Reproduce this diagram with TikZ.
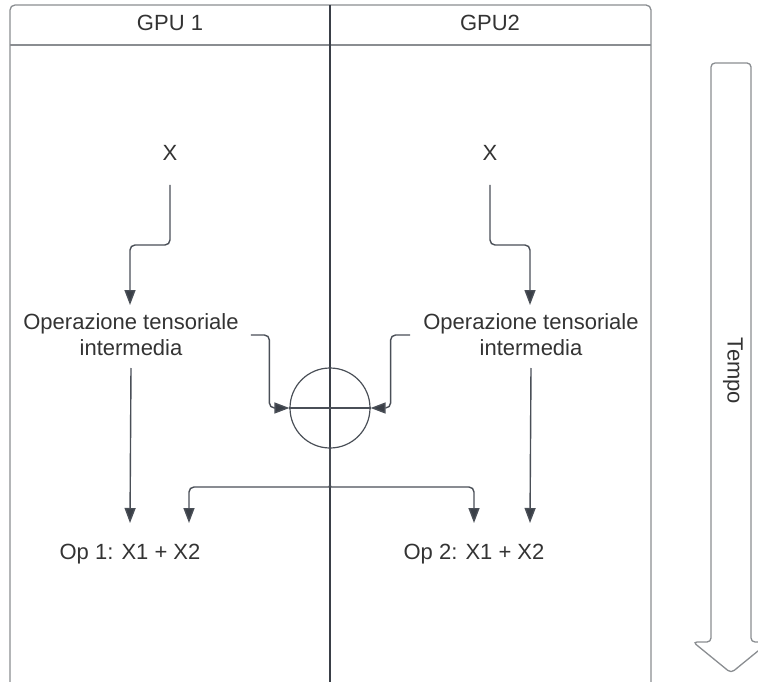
\documentclass[tikz,border=0pt]{standalone}
\usepackage{fontspec}
\setmainfont{Liberation Sans}
\usetikzlibrary{arrows.meta}
\definecolor{ink}{HTML}{333333}
\definecolor{wire}{HTML}{4A4F57}
\definecolor{tipc}{HTML}{3A3F47}
\definecolor{framec}{HTML}{8A8D91}
\tikzset{
  txt/.style={inner sep=0pt, text=ink, font=\fontsize{22}{26}\selectfont, align=center},
  conn/.style={draw=wire, line width=1.4pt, rounded corners=5pt, -{Triangle[length=15pt,width=11pt,fill=tipc]}},
  wireline/.style={draw=wire, line width=1.4pt},
  framel/.style={draw=framec, line width=1.3pt},
  divider/.style={draw=tipc, line width=1.4pt}
}
\begin{document}
\begin{tikzpicture}[x=1pt,y=-1pt]
\useasboundingbox (0,0) rectangle (758,682);
% swimlane frame
\draw[framel, rounded corners=5pt] (10,682) -- (10,5) -- (651,5) -- (651,682);
\draw[framel] (10,45) -- (651,45);
\draw[divider] (330,5) -- (330,682);
\node[txt] (h1) at (170,23) {GPU 1};
\node[txt] (h2) at (490,23) {GPU2};
% texts
\node[txt] (x1) at (170,153) {X};
\node[txt] (x2) at (490,153) {X};
\node[txt] (m1) at (131,335) {Operazione tensoriale\\intermedia};
\node[txt] (m2) at (531,335) {Operazione tensoriale\\intermedia};
\node[txt] (r1) at (130,554) {Op 1: X1 + X2};
\node[txt] (r2) at (474,554) {Op 2: X1 + X2};
% circle
\node[circle, draw=wire, line width=1.2pt, minimum size=80pt, inner sep=0pt] (c) at (330,408) {};
\draw[draw=wire, line width=1.2pt] (c.west) -- (c.east);
% named free ends
\coordinate (a1) at (130,305);
\coordinate (a2) at (530,305);
\coordinate (b1) at (189,523);
\coordinate (b2) at (474,523);
\coordinate (d1) at (130,523);
\coordinate (d2) at (530,523);
% connectors
\draw[conn] ([yshift=-24pt]x1.south) -- (170,245) -- (130,245) -- (a1);
\draw[conn] ([yshift=-24pt]x2.south) -- (490,245) -- (530,245) -- (a2);
\draw[conn] ([yshift=-33pt]m1.center) -- (d1);
\draw[conn] ([yshift=-33pt]m2.center) -- (d2);
\draw[conn] ([xshift=12pt]m1.east) -| ([xshift=-20pt]c.west) -- (c.west);
\draw[conn] ([xshift=-13pt]m2.west) -| ([xshift=20pt]c.east) -- (c.east);
% brace-like split from the circle
\draw[conn] (c.south) -- (330,480) .. controls (330,485) and (329,487) .. (324,487) -- (189,487) -- (b1);
\draw[conn] (c.south) -- (330,480) .. controls (330,485) and (331,487) .. (336,487) -- (474,487) -- (b2);
% time arrow
\draw[framel, rounded corners=4pt] (711,642) -- (711,63) -- (751,63) -- (751,642) -- (769,642) -- (731,673) -- (693,642) -- cycle;
\node[txt, rotate=-90] (t) at (733,371) {Tempo};
\end{tikzpicture}
\end{document}
